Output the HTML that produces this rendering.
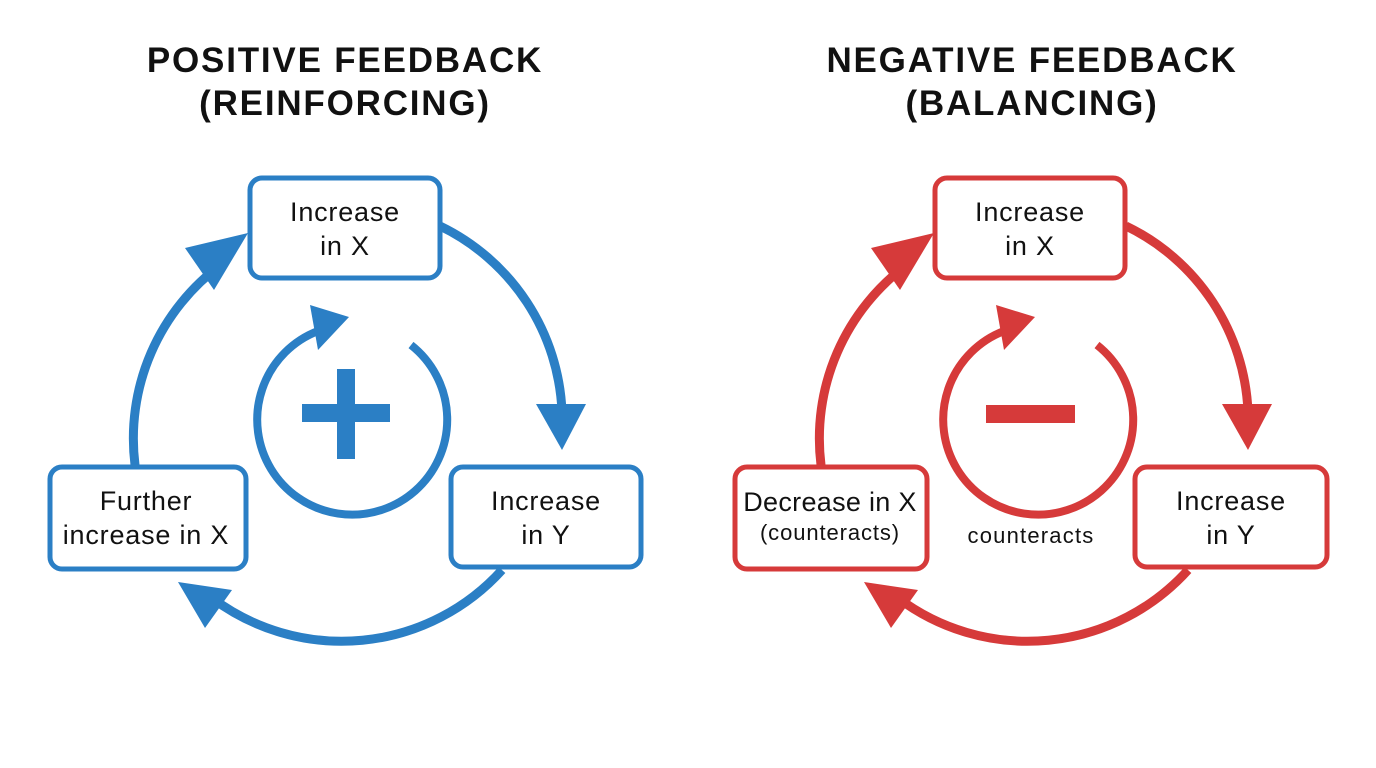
<!DOCTYPE html>
<html><head><style>
html,body{margin:0;padding:0;background:#fff;}
svg{display:block;}
text{font-family:"Liberation Sans",sans-serif;}
</style></head><body>
<svg width="1376" height="768" viewBox="0 0 1376 768" xmlns="http://www.w3.org/2000/svg">
<rect width="1376" height="768" fill="#fff"/>
<defs>
<g id="loop">
  <!-- outer arcs (circle center 346,420 r 216) -->
  <path d="M440,226 A216,216 0 0 1 562,412" fill="none" stroke-width="9" stroke="currentColor"/>
  <polygon points="536,404 586,404 562,450" fill="currentColor"/>
  <path d="M502,570 A216,216 0 0 1 212,598" fill="none" stroke-width="9" stroke="currentColor"/>
  <polygon points="178,582 232,590 205,628" fill="currentColor"/>
  <path d="M135,465 A216,216 0 0 1 222,264" fill="none" stroke-width="9" stroke="currentColor"/>
  <polygon points="248,233 185,248 214,290" fill="currentColor"/>
  <!-- inner loop -->
  <path d="M411,345 A95,95 0 1 1 318,331" fill="none" stroke-width="8" stroke="currentColor"/>
  <polygon points="349,317 310,305 318,350" fill="currentColor"/>
</g>
</defs>
<!-- titles -->
<g font-size="35" font-weight="bold" text-anchor="middle" fill="#111" letter-spacing="1.8">
<text x="345" y="72">POSITIVE FEEDBACK</text>
<text x="345" y="115">(REINFORCING)</text>
<text x="1032" y="72">NEGATIVE FEEDBACK</text>
<text x="1032" y="115">(BALANCING)</text>
</g>

<!-- LEFT -->
<g style="color:#2b7fc5">
<use href="#loop"/>
<rect x="302" y="404" width="88" height="18" fill="currentColor"/>
<rect x="337" y="369" width="18" height="90" fill="currentColor"/>
<g fill="#fff" stroke="#2b7fc5" stroke-width="5">
<rect x="250" y="178" width="190" height="100" rx="12"/>
<rect x="50" y="467" width="196" height="102" rx="12"/>
<rect x="451" y="467" width="190" height="100" rx="12"/>
</g>
</g>
<g fill="#111" font-size="27" text-anchor="middle" letter-spacing="0.8">
<text x="345" y="221">Increase</text><text x="345" y="255">in X</text>
<text x="146" y="510">Further</text><text x="146" y="544">increase in X</text>
<text x="546" y="510">Increase</text><text x="546" y="544">in Y</text>
</g>

<!-- RIGHT -->
<g style="color:#d63a3a" transform="translate(686,0)">
<use href="#loop"/>
<rect x="300" y="405" width="89" height="18" fill="currentColor"/>
</g>
<g fill="#fff" stroke="#d63a3a" stroke-width="5">
<rect x="935" y="178" width="190" height="100" rx="12"/>
<rect x="735" y="467" width="192" height="102" rx="12"/>
<rect x="1135" y="467" width="192" height="100" rx="12"/>
</g>
<g fill="#111" font-size="27" text-anchor="middle" letter-spacing="0.8">
<text x="1030" y="221">Increase</text><text x="1030" y="255">in X</text>
<text x="830" y="511" letter-spacing="0.3">Decrease in X</text>
<text x="830" y="540" font-size="22" letter-spacing="0.9">(counteracts)</text>
<text x="1231" y="510">Increase</text><text x="1231" y="544">in Y</text>
<text x="1031" y="543" font-size="22" letter-spacing="1.2">counteracts</text>
</g>
</svg>
</body></html>
